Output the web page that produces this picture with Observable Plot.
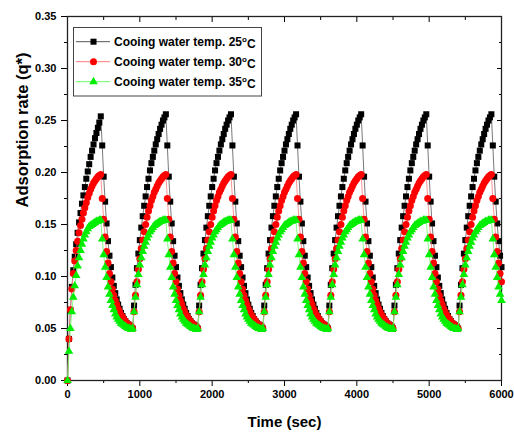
<!DOCTYPE html>
<html>
<head>
<meta charset="utf-8">
<script src="https://cdn.jsdelivr.net/npm/d3@7"></script>
<script src="https://cdn.jsdelivr.net/npm/@observablehq/plot@0.6"></script>
<style>
  html, body { margin: 0; padding: 0; background: #fff; }
  #chart svg { display: block; }
</style>
</head>
<body>
<div id="chart"></div>
<script>
// ---- sampling of the cycles ----
const timeStep = 20;      // s between samples
const cyclePeriod = 900;  // s per adsorption cycle
const endTime = 6000;     // s

// ---- series names / colours ----
const seriesNames = ["Cooing water temp. 25", "Cooing water temp. 30", "Cooing water temp. 35"];
const markerColors = ["#000000", "#ff0000", "#00ee00"];
const lineColors = ["#555555", "#ff7a7a", "#66ff66"];

// ---- first (start-up) rise, t = 0..460 s ----
const startup25 = [0.000,0.040,0.068,0.090,0.106,0.119,0.131,0.142,0.152,0.161,0.170,0.178,0.186,0.194,0.201,0.208,0.215,0.221,0.227,0.233,0.238,0.243,0.248,0.254];
const startup30 = [0.000,0.040,0.068,0.088,0.103,0.115,0.125,0.134,0.142,0.149,0.155,0.161,0.166,0.171,0.176,0.180,0.184,0.187,0.190,0.192,0.194,0.196,0.197,0.198];
const startup35 = [0.000,0.028,0.050,0.066,0.080,0.091,0.101,0.110,0.118,0.125,0.131,0.136,0.140,0.143,0.146,0.148,0.149,0.150,0.151,0.152,0.153,0.153,0.154,0.154];

// ---- one repeated cycle, cycle time 0..880 s (rise then fall) ----
const cycle25 = [0.050,0.072,0.092,0.108,0.122,0.135,0.147,0.158,0.168,0.177,0.186,0.194,0.202,0.209,0.215,0.221,0.227,0.232,0.237,0.242,0.246,0.250,0.253,0.256,
                 0.226,0.196,0.172,0.151,0.134,0.120,0.109,0.099,0.091,0.084,0.078,0.073,0.069,0.065,0.062,0.059,0.057,0.055,0.054,0.053,0.052];
const cycle30 = [0.050,0.066,0.082,0.095,0.107,0.117,0.127,0.135,0.143,0.150,0.157,0.163,0.168,0.173,0.177,0.181,0.184,0.187,0.190,0.192,0.194,0.196,0.197,0.198,
                 0.175,0.155,0.138,0.124,0.113,0.103,0.095,0.088,0.082,0.077,0.073,0.069,0.066,0.063,0.061,0.059,0.057,0.055,0.054,0.053,0.052];
const cycle35 = [0.050,0.066,0.080,0.092,0.102,0.111,0.118,0.124,0.129,0.133,0.137,0.140,0.143,0.145,0.147,0.149,0.150,0.151,0.152,0.153,0.153,0.154,0.154,0.154,
                 0.136,0.121,0.109,0.099,0.090,0.083,0.077,0.072,0.068,0.064,0.061,0.059,0.057,0.055,0.054,0.053,0.052,0.051,0.050,0.050,0.049];

// ---- ticks ----
const xTicks = [0, 1000, 2000, 3000, 4000, 5000, 6000];
const xMinor = [500, 1500, 2500, 3500, 4500, 5500];
const yTicks = [0, 0.05, 0.10, 0.15, 0.20, 0.25, 0.30, 0.35];
const yMinor = [0.025, 0.075, 0.125, 0.175, 0.225, 0.275, 0.325];

const xLabel = "Time (sec)";
const yLabel = "Adsorption rate (q*)";

function buildSeries(startup, cycle, name) {
  const rows = [];
  for (let c = 0; c * cyclePeriod <= endTime; c++) {
    for (let k = 0; k < cycle.length; k++) {
      const t = c * cyclePeriod + k * timeStep;
      if (t > endTime) break;
      const q = (c === 0 && k < startup.length) ? startup[k] : cycle[k];
      rows.push({t, q, series: name});
    }
  }
  return rows;
}

const s25 = buildSeries(startup25, cycle25, seriesNames[0]);
const s30 = buildSeries(startup30, cycle30, seriesNames[1]);
const s35 = buildSeries(startup35, cycle35, seriesNames[2]);

const fontFamily = "'Liberation Sans', Arial, Helvetica, sans-serif";
const noText = () => "";

const plot = Plot.plot({
  width: 514,
  height: 436,
  marginLeft: 67,
  marginRight: 13,
  marginTop: 16,
  marginBottom: 56,
  style: {fontFamily, fontSize: "11px", fontWeight: "bold", color: "#000", background: "#fff", overflow: "visible"},
  x: {domain: [0, 6000]},
  y: {domain: [0, 0.35]},
  marks: [
    // axes
    Plot.axisY(yTicks, {anchor: "left", tickSize: 6, tickPadding: 5, tickFormat: d3.format(".2f"), label: null}),
    Plot.axisY(yMinor, {anchor: "left", tickSize: 3, tickFormat: noText, label: null}),
    Plot.axisY(yTicks, {anchor: "right", tickSize: 5, insetRight: 5, tickFormat: noText, label: null}),
    Plot.axisY(yMinor, {anchor: "right", tickSize: 3, insetRight: 3, tickFormat: noText, label: null}),
    Plot.axisX(xTicks, {anchor: "bottom", tickSize: 6, tickPadding: 4, tickFormat: d => String(d), label: null}),
    Plot.axisX(xMinor, {anchor: "bottom", tickSize: 3, tickFormat: noText, label: null}),
    Plot.axisX(xTicks, {anchor: "top", tickSize: 5, insetTop: 5, tickFormat: noText, label: null}),
    Plot.axisX(xMinor, {anchor: "top", tickSize: 3, insetTop: 3, tickFormat: noText, label: null}),
    Plot.frame({stroke: "#222", strokeWidth: 1.3}),
    // axis titles
    Plot.text([yLabel], {text: d => d, frameAnchor: "left", dx: -45, dy: 9, rotate: -90, fontSize: 16.5, fontWeight: "bold", fill: "#000"}),
    Plot.text([xLabel], {text: d => d, frameAnchor: "bottom", dy: 46, fontSize: 15, fontWeight: "bold", fill: "#000"}),
    // series
    Plot.line(s25, {x: "t", y: "q", stroke: lineColors[0], strokeWidth: 0.8}),
    Plot.dot(s25, {x: "t", y: "q", symbol: "square", r: 3.4, fill: markerColors[0], stroke: "none"}),
    Plot.line(s30, {x: "t", y: "q", stroke: lineColors[1], strokeWidth: 0.8}),
    Plot.dot(s30, {x: "t", y: "q", symbol: "circle", r: 3.5, fill: markerColors[1], stroke: "none"}),
    Plot.line(s35, {x: "t", y: "q", stroke: lineColors[2], strokeWidth: 0.8}),
    Plot.dot(s35, {x: "t", y: "q", symbol: "triangle", r: 3.2, fill: markerColors[2], stroke: "none"})
  ]
});

document.getElementById("chart").appendChild(plot);

// ---- legend (inside the plot frame, top-left) ----
const svg = d3.select(plot);
const lg = svg.append("g").attr("class", "legend").attr("font-family", fontFamily).attr("text-anchor", "start");
lg.append("rect").attr("x", 73.5).attr("y", 27.5).attr("width", 188).attr("height", 68.5)
  .attr("fill", "#fff").attr("stroke", "#444").attr("stroke-width", 1);
const symbols = [d3.symbolSquare, d3.symbolCircle, d3.symbolTriangle];
const radii = [3.4, 3.5, 3.2];
seriesNames.forEach((name, i) => {
  const y = 41.7 + i * 20;
  lg.append("line").attr("x1", 76).attr("x2", 110).attr("y1", y).attr("y2", y)
    .attr("stroke", lineColors[i]).attr("stroke-width", 1);
  lg.append("path").attr("transform", `translate(93.5,${y})`)
    .attr("d", d3.symbol(symbols[i], Math.PI * radii[i] * radii[i])())
    .attr("fill", markerColors[i]);
  const t = lg.append("text").attr("x", 114).attr("y", y).attr("dy", "0.36em")
    .attr("text-anchor", "start")
    .attr("font-size", 12).attr("font-weight", "bold").attr("fill", "#000");
  t.append("tspan").text(name);
  t.append("tspan").attr("dy", "-0.45em").attr("font-size", 8).text("o");
  t.append("tspan").attr("dy", "0.45em").text("C");
});
</script>
</body>
</html>
